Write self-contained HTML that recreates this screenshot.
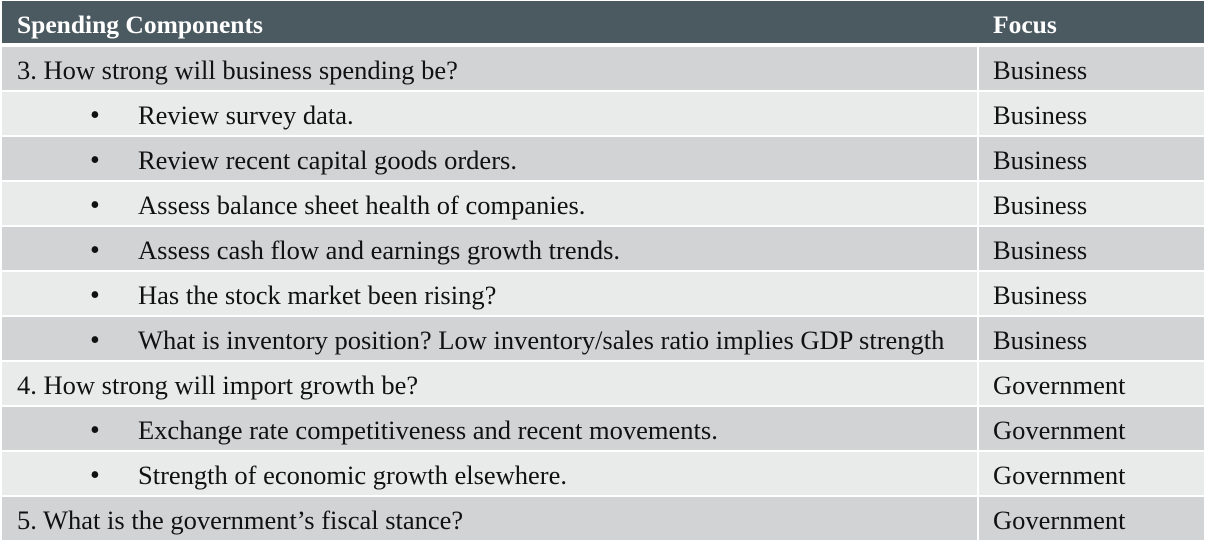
<!DOCTYPE html>
<html><head><meta charset="utf-8"><style>
body{margin:0;width:1206px;height:541px;background:#fff;position:relative;overflow:hidden;font-family:"Liberation Serif",serif;font-size:26.5px;color:#111}
.r{position:absolute;left:2px;width:1202px;height:43px}
.c{position:absolute;top:0;height:100%;line-height:47px;white-space:nowrap}
.a{left:0;width:975px;padding-left:15px;box-sizing:border-box}
.b{left:977px;right:0;padding-left:14px}
.d{background:#d2d3d5}.l{background:#e9eaea}
.h{background:#4b5961;color:#fff;font-weight:bold;top:1px;height:42px;font-size:25.5px}
.h .c{line-height:48px}
.bl{position:absolute;left:88px;font-size:28px}.t{position:absolute;left:136px}
</style></head><body>
<div class="r h"><div class="c a" style="background:#4b5961">Spending Components</div><div class="c b" style="background:#4b5961">Focus</div></div>
<div id="rows"></div>
<script>
const rows=[
["3. How strong will business spending be?","Business",0],
["Review survey data.","Business",1],
["Review recent capital goods orders.","Business",1],
["Assess balance sheet health of companies.","Business",1],
["Assess cash flow and earnings growth trends.","Business",1],
["Has the stock market been rising?","Business",1],
["What is inventory position? Low inventory/sales ratio implies GDP strength","Business",1],
["4. How strong will import growth be?","Government",0],
["Exchange rate competitiveness and recent movements.","Government",1],
["Strength of economic growth elsewhere.","Government",1],
["5. What is the government\u2019s fiscal stance?","Government",0]];
const host=document.getElementById('rows');
rows.forEach((r,i)=>{
 const cls=i%2===0?'d':'l';
 const row=document.createElement('div');row.className='r';row.style.top=(47+45*i)+'px';
 
 
 const a=document.createElement('div');a.className='c a '+cls;
 
 
 if(r[2]){a.innerHTML='<span class="bl">•</span><span class="t">'+r[0]+'</span>';}else a.textContent=r[0];
 const b=document.createElement('div');b.className='c b '+cls;b.textContent=r[1];
 
 
 row.appendChild(a);row.appendChild(b);host.appendChild(row);
});
</script>
</body></html>
